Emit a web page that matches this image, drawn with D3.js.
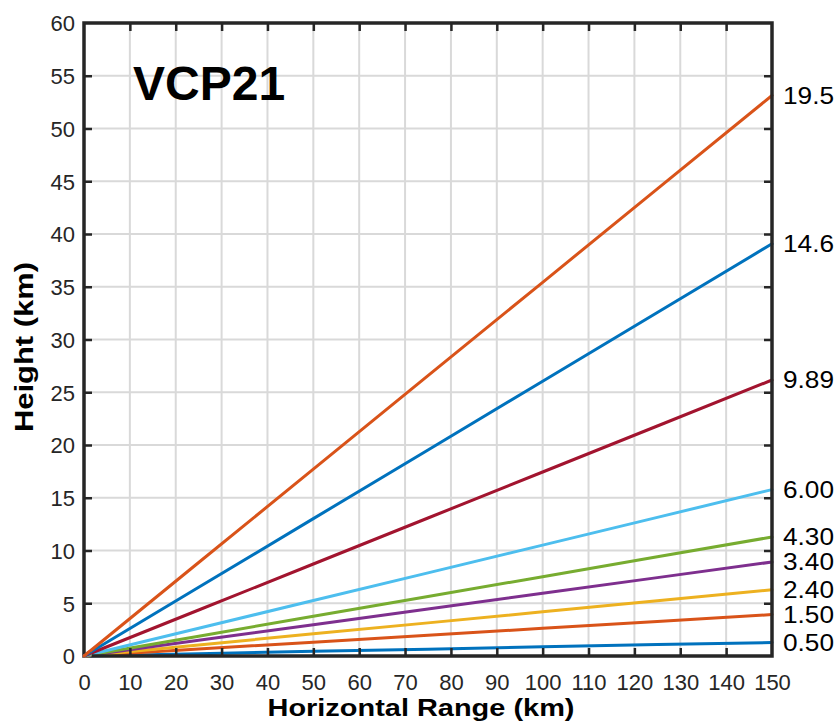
<!DOCTYPE html>
<html>
<head>
<meta charset="utf-8">
<script src="https://cdn.jsdelivr.net/npm/d3@7"></script>
<style>
  body { margin: 0; background: #ffffff; }
  text { font-family: "Liberation Sans", Arial, Helvetica, sans-serif; }
</style>
</head>
<body>
<svg id="chart" width="840" height="725"></svg>
<script>
// Beam-centre height (km) against horizontal range (km) for each VCP21 elevation angle
const ranges = [0, 25, 50, 75, 100, 125, 150];
const elevations = ["0.50", "1.50", "2.40", "3.40", "4.30", "6.00", "9.89", "14.6", "19.5"];
const h050 = [0, 0.22, 0.44, 0.65, 0.87, 1.08, 1.28];
const h150 = [0, 0.66, 1.31, 1.97, 2.62, 3.28, 3.93];
const h240 = [0, 1.05, 2.10, 3.14, 4.19, 5.24, 6.28];
const h340 = [0, 1.49, 2.97, 4.46, 5.94, 7.43, 8.91];
const h430 = [0, 1.88, 3.76, 5.64, 7.52, 9.40, 11.28];
const h600 = [0, 2.63, 5.26, 7.88, 10.51, 13.14, 15.77];
const h989 = [0, 4.36, 8.72, 13.08, 17.44, 21.80, 26.16];
const h146 = [0, 6.51, 13.02, 19.53, 26.05, 32.56, 39.07];
const h195 = [0, 8.86, 17.71, 26.57, 35.42, 44.28, 53.13];
const heights = [h050, h150, h240, h340, h430, h600, h989, h146, h195];
const colors = ["#0072BD", "#D95319", "#EDB120", "#7E2F8E", "#77AC30",
                "#4DBEEE", "#A2142F", "#0072BD", "#D95319"];
const xTickValues = [0, 10, 20, 30, 40, 50, 60, 70, 80, 90, 100, 110, 120, 130, 140, 150];
const yTickValues = [0, 5, 10, 15, 20, 25, 30, 35, 40, 45, 50, 55, 60];
const title = "VCP21";
const xTitle = "Horizontal Range (km)";
const yTitle = "Height (km)";

const svg = d3.select("#chart");
const L = 84, R = 772, T = 23, B = 656;
const x = d3.scaleLinear().domain([0, 150]).range([L, R]);
const y = d3.scaleLinear().domain([0, 60]).range([B, T]);
const axisColor = "#262626";
const fontSans = "'Liberation Sans', Arial, Helvetica, sans-serif";

// grid
const grid = svg.append("g");
grid.selectAll("line.gx").data(xTickValues).join("line")
  .attr("class", "gx")
  .attr("x1", d => x(d)).attr("x2", d => x(d)).attr("y1", T).attr("y2", B)
  .attr("stroke", "#d9d9d9").attr("stroke-width", 2);
grid.selectAll("line.gy").data(yTickValues).join("line")
  .attr("class", "gy")
  .attr("y1", d => y(d)).attr("y2", d => y(d)).attr("x1", L).attr("x2", R)
  .attr("stroke", "#d9d9d9").attr("stroke-width", 2);

// beam lines
const line = d3.line().x((d, i) => x(ranges[i])).y(d => y(d));
svg.append("g").selectAll("path").data(heights).join("path")
  .attr("d", d => line(d))
  .attr("fill", "none")
  .attr("stroke", (d, i) => colors[i])
  .attr("stroke-width", 3)
  .attr("stroke-linecap", "round");

// axes with inward ticks on all four sides
const tickLen = 8;
const axBottom = svg.append("g").attr("transform", `translate(0,${B})`)
  .call(d3.axisBottom(x).tickValues(xTickValues).tickSize(-tickLen).tickPadding(0));
axBottom.selectAll("text").attr("y", 34).attr("dy", 0);
const axTop = svg.append("g").attr("transform", `translate(0,${T})`)
  .call(d3.axisTop(x).tickValues(xTickValues).tickSize(-tickLen).tickFormat(""));
const axLeft = svg.append("g").attr("transform", `translate(${L},0)`)
  .call(d3.axisLeft(y).tickValues(yTickValues).tickSize(-tickLen).tickPadding(10));
axLeft.selectAll("text").attr("x", -9).attr("dy", "0.36em");
const axRight = svg.append("g").attr("transform", `translate(${R},0)`)
  .call(d3.axisRight(y).tickValues(yTickValues).tickSize(-tickLen).tickFormat(""));

[axBottom, axTop, axLeft, axRight].forEach(g => {
  g.attr("font-family", fontSans).attr("font-size", 22);
  g.select(".domain").remove();
  g.selectAll(".tick line").attr("stroke", axisColor).attr("stroke-width", 2.5);
  g.selectAll("text").attr("fill", axisColor).attr("font-size", 22);
});
axBottom.selectAll(".tick").filter(d => d === 0 || d === 150).select("line").remove();
axTop.selectAll(".tick").filter(d => d === 0 || d === 150).select("line").remove();
axLeft.selectAll(".tick").filter(d => d === 0 || d === 60).select("line").remove();
axRight.selectAll(".tick").filter(d => d === 0 || d === 60).select("line").remove();

// frame
svg.append("rect")
  .attr("x", L).attr("y", T).attr("width", R - L).attr("height", B - T)
  .attr("fill", "none").attr("stroke", axisColor).attr("stroke-width", 3.5);

// redraw the line starts over the frame corner
svg.append("g").selectAll("path").data(heights).join("path")
  .attr("d", d => line(d.slice(0, 2)))
  .attr("fill", "none")
  .attr("stroke", (d, i) => colors[i])
  .attr("stroke-width", 3)
  .attr("stroke-linecap", "round")
  .attr("stroke-dasharray", "6 1000");

// elevation labels at the end of each beam
svg.append("g").selectAll("text").data(elevations).join("text")
  .attr("x", 783)
  .attr("y", (d, i) => y(heights[i][heights[i].length - 1]))
  .attr("dy", "0.36em")
  .attr("font-family", fontSans)
  .attr("font-size", 23)
  .attr("textLength", 51)
  .attr("lengthAdjust", "spacingAndGlyphs")
  .attr("fill", "#000")
  .text(d => d);

// title
svg.append("text")
  .attr("x", 133).attr("y", 100)
  .attr("font-family", fontSans)
  .attr("font-size", 48).attr("font-weight", "bold")
  .attr("fill", "#000")
  .text(title);

// axis titles
svg.append("text")
  .attr("x", 421).attr("y", 716)
  .attr("text-anchor", "middle")
  .attr("font-family", fontSans)
  .attr("font-size", 24).attr("font-weight", "bold")
  .attr("textLength", 307).attr("lengthAdjust", "spacingAndGlyphs")
  .attr("fill", "#000")
  .text(xTitle);
svg.append("text")
  .attr("transform", `translate(33,347) rotate(-90)`)
  .attr("text-anchor", "middle")
  .attr("font-family", fontSans)
  .attr("font-size", 26).attr("font-weight", "bold")
  .attr("textLength", 170).attr("lengthAdjust", "spacingAndGlyphs")
  .attr("fill", "#000")
  .text(yTitle);
</script>
</body>
</html>
